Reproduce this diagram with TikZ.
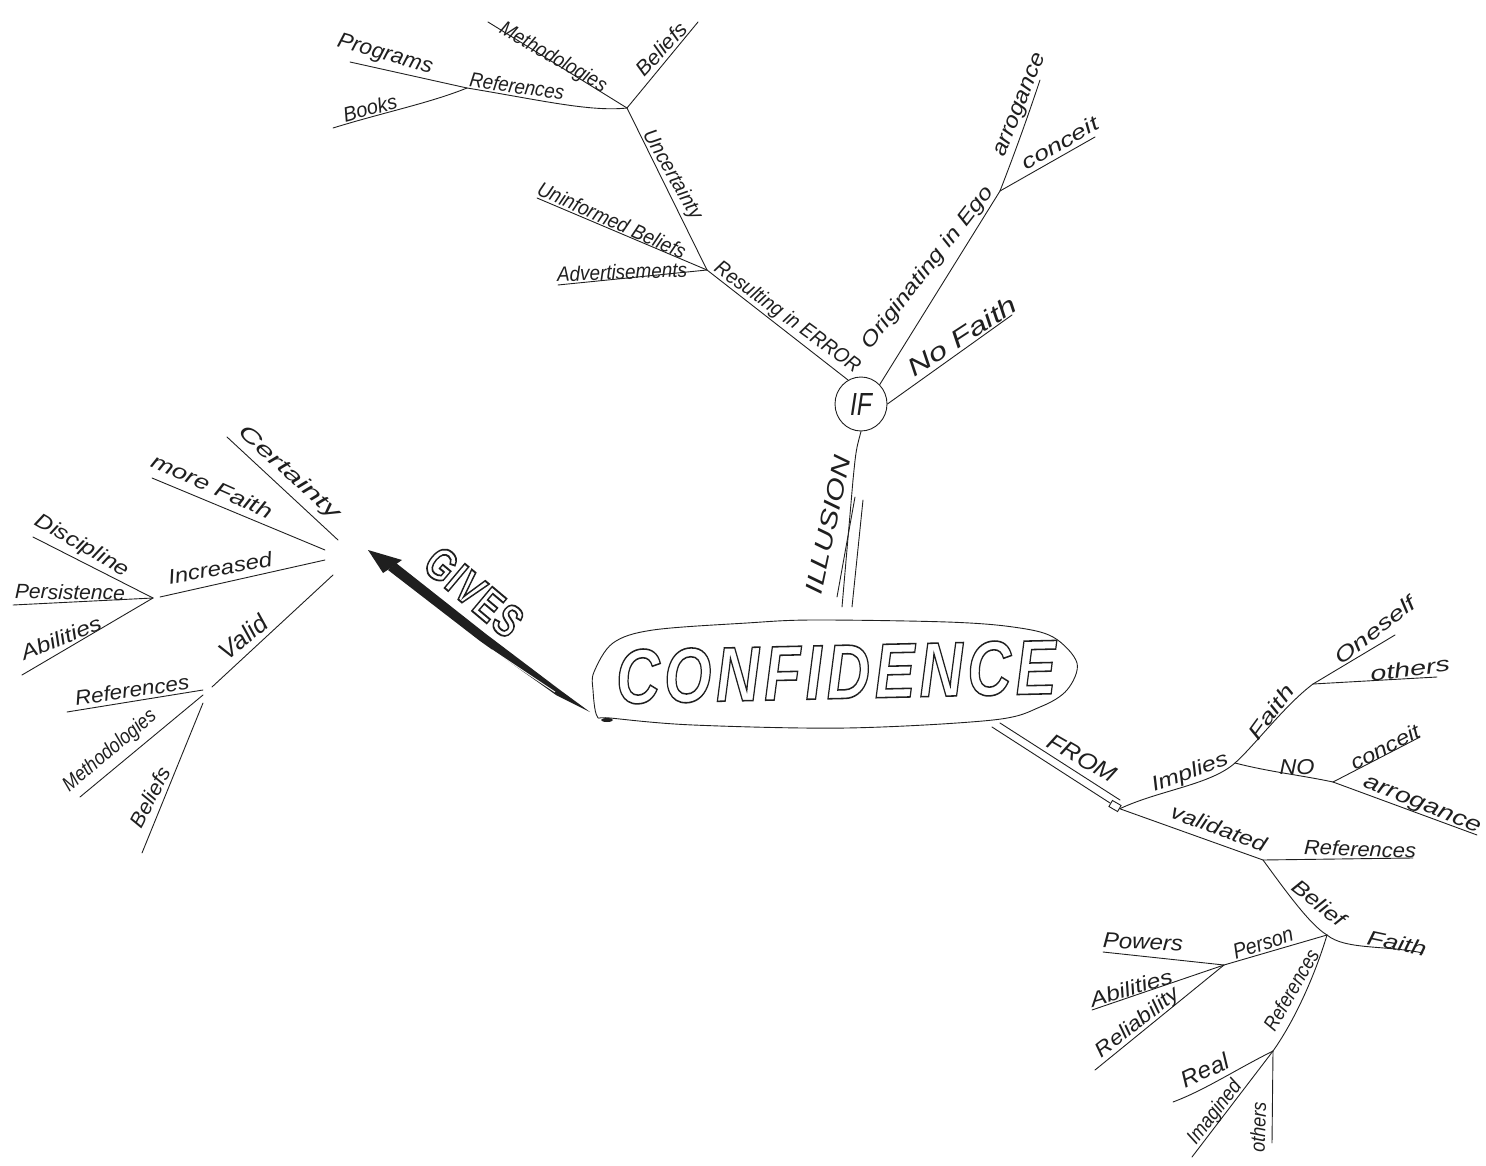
\documentclass[tikz,border=0pt]{standalone}
\usepackage{fontspec}
\usepackage{graphicx}
\usetikzlibrary{shapes.geometric}
\setmainfont{Liberation Sans}
\newfontfamily\outl[LetterSpace=7]{Liberation Sans}
\newfontfamily\outlg[LetterSpace=4]{Liberation Sans}
\definecolor{ink}{gray}{0.12}
\tikzset{
  lab/.style={inner sep=0pt,text=ink},
  ln/.style={draw=ink,line width=0.9pt,line cap=round,line join=round},
}
% [height]{name}{x}{y}{angle}{width}{text}
\newcommand\W[7][15]{\node[lab,rotate=#5] (#2) at (#3,#4) {\resizebox{#6pt}{#1pt}{\itshape\vphantom{A}#7}};}
\newcommand\hollow[2]{\special{pdf:code 1 Tr #1 w}#2\special{pdf:code 0 Tr 1 w}}
\begin{document}
\begin{tikzpicture}[x=1pt,y=-1pt]
\useasboundingbox (0,0) rectangle (1486,1166);
% ---- central blob
\draw[ln] plot[smooth cycle,tension=0.55] coordinates {(594,672) (613,643) (653,630) (747,623) (813,620) (947,622) (1013,627) (1053,637) (1077,663) (1067,690) (1040,707) (993,720) (847,728) (693,725) (610,718) (597,716) (593,690)};
\fill[ink] (607,720) ellipse (6pt and 2pt);
\node[lab,rotate=1.3] (conf) at (836,672) {\resizebox{440pt}{54pt}{\hollow{0.2}{\outl\bfseries\itshape CONFIDENCE}}};
% ---- GIVES arrow
\coordinate (gstart) at (590,712);
\coordinate (gtip) at (368,550);
\fill[ink] (gtip) -- (402,560) -- (392,567) -- (383,573) -- cycle;
\fill[ink] (388,570) -- (396,563) -- (486,634) -- (560,690) -- (gstart) -- (556,695) -- (480,641) -- cycle;
\draw[white,line width=0.9pt] (492,650) -- (555,692);
\node[lab,rotate=-40] (gives) at (474,592) {\resizebox{112pt}{32pt}{\hollow{0.4}{\outlg\bfseries GIVES}}};
% ---- junctions and free ends
\node[ellipse,draw=ink,line width=0.9pt,minimum width=52pt,minimum height=54pt,inner sep=0pt] (if) at (861,404) {};
\node[inner sep=0pt,text=ink] (iftxt) at (861,404) {\resizebox{22pt}{22pt}{\itshape IF}};
\foreach \n/\x/\y in {
  ill1/853/480, ill1b/842/607, ill2a/855/497, ill2b/837/597, ill3a/863/500, ill3b/852/607,
  jres/707/270, jref/467/88, jtop/627/108, jego/1000/191,
  eProg/350/62, eBooks/333/128, eMeth/488/22, eBel/698/22, eInf/537/198, eAdv/558/285,
  eArr/1040/80, eCon/1095/137, eNF/1012/315, eResA/848/380,
  fa/992/727, fb/1000/723, fa2/1110/803, fb2/1120/800,
  jfrom/1117/806, jimp/1235/763, jfaith/1313/684, jno/1333/782, eOne/1395/635, eOth/1437/677,
  eCnc/1420/737, eArg/1477/835, jval/1263/860, eRef/1413/858, jbel/1327/935, eFa/1423/953,
  jper/1224/965, ePow/1103/952, eAb/1092/1010, eRel/1095/1070, jrf/1273/1051, eReal/1173/1102,
  eIm/1192/1157, eOt/1272/1143,
  eCer/227/437, eCer2/338/540, eMF/152/478, eMF2/325/550, eInc2/325/560, jinc/153/598,
  eInc1/160/597, eDis/33/537, ePer/13/605, eAb2/22/675, eVal/333/575, jval2/212/687,
  jla/203/690, jlb/203/695, jlc/203/703, eRef2/67/712, eMe2/80/797, eBe2/142/853}
  {\coordinate (\n) at (\x,\y);}
% ---- connectors
\draw[ln] (if.south) .. controls (856,450) .. (ill1);
\draw[ln] (ill1) -- (ill1b);
\draw[ln] (ill2a) -- (ill2b);
\draw[ln] (ill3a) -- (ill3b);
\draw[ln] (jres) -- (eResA);
\draw[ln] (jres) -- (jtop);
\draw[ln] (jres) -- (eInf);
\draw[ln] (jres) -- (eAdv);
\draw[ln] (jtop) -- (eBel);
\draw[ln] (jtop) -- (eMeth);
\draw[ln] (jtop) .. controls (590,112) and (540,100) .. (jref);
\draw[ln] (jref) -- (eProg);
\draw[ln] (jref) .. controls (430,103) and (385,112) .. (eBooks);
\draw[ln] (if.north east) -- (jego);
\draw[ln] (if.east) -- (eNF);
\draw[ln] (jego) .. controls (1012,160) and (1025,125) .. (eArr);
\draw[ln] (jego) -- (eCon);
\draw[ln] (fa) -- (fa2);
\draw[ln] (fb) -- (fb2);
\node[draw=ink,line width=0.9pt,rotate=-30,minimum width=10pt,minimum height=7pt,inner sep=0pt] (fromend) at (1115,806) {};
\draw[ln] (fromend.east) .. controls (1160,790) and (1210,785) .. (jimp);
\draw[ln] (jimp) .. controls (1255,745) and (1285,705) .. (jfaith);
\draw[ln] (jfaith) -- (eOne);
\draw[ln] (jfaith) -- (eOth);
\draw[ln] (jimp) .. controls (1270,772) and (1300,775) .. (jno);
\draw[ln] (jno) -- (eCnc);
\draw[ln] (jno) -- (eArg);
\draw[ln] (fromend.east) -- (jval);
\draw[ln] (jval) -- (eRef);
\draw[ln] (jval) .. controls (1285,890) and (1310,925) .. (jbel);
\draw[ln] (jbel) .. controls (1345,950) and (1385,945) .. (eFa);
\draw[ln] (jbel) -- (jper);
\draw[ln] (jper) -- (ePow);
\draw[ln] (jper) -- (eAb);
\draw[ln] (jper) -- (eRel);
\draw[ln] (jbel) .. controls (1315,975) and (1295,1020) .. (jrf);
\draw[ln] (jrf) .. controls (1235,1070) and (1205,1090) .. (eReal);
\draw[ln] (jrf) -- (eIm);
\draw[ln] (jrf) -- (eOt);
\draw[ln] (eCer) -- (eCer2);
\draw[ln] (eMF) -- (eMF2);
\draw[ln] (eInc1) -- (eInc2);
\draw[ln] (jinc) -- (eDis);
\draw[ln] (jinc) -- (ePer);
\draw[ln] (jinc) -- (eAb2);
\draw[ln] (jval2) -- (eVal);
\draw[ln] (jla) -- (eRef2);
\draw[ln] (jlb) -- (eMe2);
\draw[ln] (jlc) -- (eBe2);
% ---- labels: [h]{name}{x}{y}{rot}{width}{text}
\W[17]{tIll}{828}{525}{78}{140}{ILLUSION}
\W{tProg}{385}{55}{-16}{98}{Programs}
\W{tBooks}{370}{108}{15}{55}{Books}
\W{tRef}{517}{86}{-8}{95}{References}
\W{tMeth}{553}{58}{-30}{120}{Methodologies}
\W{tBel}{661}{49}{47}{65}{Beliefs}
\W{tUnc}{672}{175}{-60}{100}{Uncertainty}
\W{tInf}{612}{220}{-24}{160}{Uninformed Beliefs}
\W{tAdv}{622}{272}{2}{130}{Advertisements}
\W{tRes}{787}{318}{-36}{175}{Resulting in ERROR}
\W{tOrig}{928}{268}{52}{200}{Originating in Ego}
\W{tArr}{1020}{105}{68}{110}{arrogance}
\W{tCon}{1060}{143}{30}{85}{conceit}
\W[18]{tNF}{962}{336}{33}{125}{No Faith}
\W{tCer}{289}{473}{-42}{130}{Certainty}
\W{tMF}{212}{486}{-24}{130}{more Faith}
\W{tInc}{220}{568}{10}{105}{Increased}
\W{tDis}{82}{546}{-30}{105}{Discipline}
\W{tPer}{70}{592}{-1}{110}{Persistence}
\W{tAb}{61}{638}{22}{85}{Abilities}
\W[18]{tVal}{243}{637}{40}{55}{Valid}
\W{tRef2}{132}{690}{8}{115}{References}
\W{tMe2}{110}{751}{40}{115}{Methodologies}
\W{tBe2}{150}{797}{62}{65}{Beliefs}
\W[16]{tFrom}{1082}{758}{-30}{75}{FROM}
\W{tImp}{1190}{773}{20}{80}{Implies}
\W{tFa}{1271}{712}{54}{62}{Faith}
\W{tOne}{1375}{630}{38}{96}{Oneself}
\W{tOth}{1410}{669}{8}{80}{others}
\W{tNo}{1297}{767}{0}{35}{NO}
\W{tCnc}{1385}{747}{27}{75}{conceit}
\W{tArg}{1422}{805}{-22}{125}{arrogance}
\W{tVald}{1219}{828}{-20}{100}{validated}
\W{tRef3}{1360}{849}{-2}{112}{References}
\W{tBelf}{1319}{903}{-38}{62}{Belief}
\W{tFa2}{1397}{943}{-12}{60}{Faith}
\W{tPers}{1263}{943}{18}{62}{Person}
\W{tPow}{1143}{942}{-3}{80}{Powers}
\W{tAb3}{1131}{988}{17}{85}{Abilities}
\W{tRel}{1138}{1023}{38}{100}{Reliability}
\W{tRef4}{1291}{990}{60}{90}{References}
\W[17]{tReal}{1205}{1070}{25}{50}{Real}
\W{tIm}{1215}{1113}{52}{75}{Imagined}
\W{tOt}{1258}{1127}{88}{50}{others}
\end{tikzpicture}
\end{document}
